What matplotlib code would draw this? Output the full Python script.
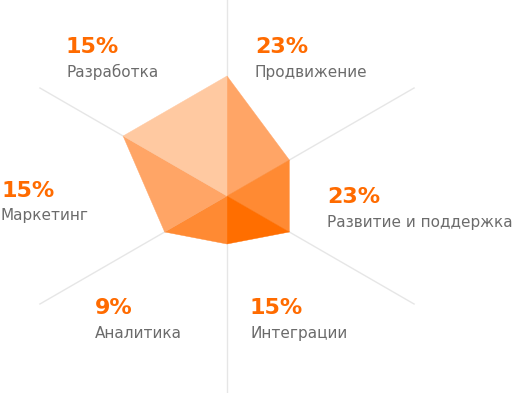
import numpy as np
import matplotlib
matplotlib.use("Agg")
import matplotlib.pyplot as plt
from matplotlib.patches import Polygon

# Sector data (clockwise from top)
categories = ["Продвижение", "Развитие и поддержка", "Интеграции",
              "Аналитика", "Маркетинг", "Разработка"]
percents = [23, 23, 15, 9, 15, 15]
# Radar vertex values on the axes at 90, 30, -30, -90, -150, 150 degrees
axis_angles = [90, 30, -30, -90, -150, 150]
vertex_values = [10, 6, 6, 4, 6, 10]
wedge_colors = ["#FFA566", "#FF8A33", "#FF6E00", "#FF8A33", "#FFA566", "#FFC9A1"]

# Layout
W, H = 517, 393
CX, CY = 227, 196
UNIT = 12.0
AXIS_LEN = 216
label_pos = {  # (x, percent baseline, label baseline)
    "Продвижение": (255, 53, 77),
    "Развитие и поддержка": (327, 203, 227),
    "Интеграции": (250, 314, 338),
    "Аналитика": (95, 314, 338),
    "Маркетинг": (1, 197, 220),
    "Разработка": (66, 53, 77),
}

fig = plt.figure(figsize=(W / 100, H / 100), dpi=100)
ax = fig.add_axes([0, 0, 1, 1])
ax.set_xlim(0, W)
ax.set_ylim(H, 0)
ax.axis("off")

def pt(angle_deg, r):
    a = np.deg2rad(angle_deg)
    return CX + r * np.cos(a), CY - r * np.sin(a)

# axis lines
ax.plot([CX, CX], [0, H], color="#E6E6E6", lw=1, zorder=1)
for a in [30, -30, -150, 150]:
    x, y = pt(a, AXIS_LEN)
    ax.plot([CX, x], [CY, y], color="#E6E6E6", lw=1, zorder=1)

# wedges
n = len(axis_angles)
for i in range(n):
    a1, a2 = axis_angles[i], axis_angles[(i + 1) % n]
    p1 = pt(a1, vertex_values[i] * UNIT)
    p2 = pt(a2, vertex_values[(i + 1) % n] * UNIT)
    poly = Polygon([(CX, CY), p1, p2], closed=True, facecolor=wedge_colors[i],
                   edgecolor=wedge_colors[i], lw=0.3, zorder=2)
    ax.add_patch(poly)

for cat, pct in zip(categories, percents):
    x, yb, lb = label_pos[cat]
    ax.text(x, yb, f"{pct}%", color="#FF6B00", fontsize=16, fontweight="heavy",
            family="DejaVu Sans", ha="left", va="baseline", zorder=3)
    ax.text(x, lb, cat, color="#6B6B6B", fontsize=11, family="DejaVu Sans",
            ha="left", va="baseline", zorder=3)

fig.savefig("out.png", dpi=100)
